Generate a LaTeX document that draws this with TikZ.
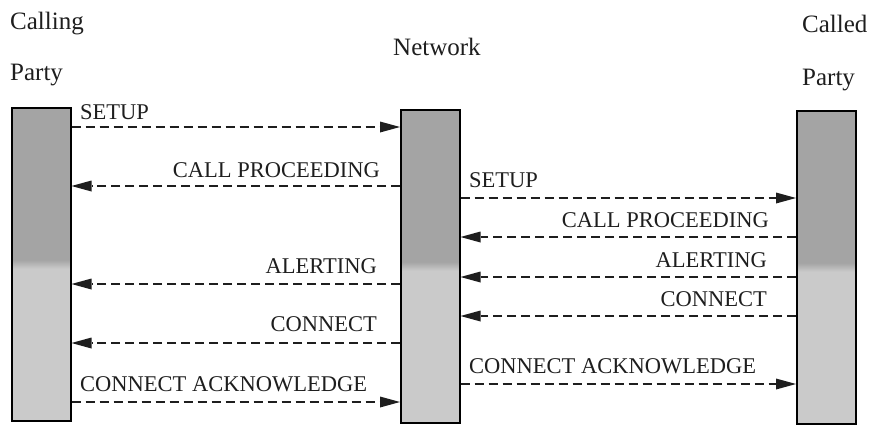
\documentclass[tikz,border=0pt]{standalone}
\usepackage{fontspec}
\setmainfont{Liberation Serif}
\usetikzlibrary{arrows.meta}
\definecolor{bardark}{HTML}{A4A4A4}
\definecolor{barlight}{HTML}{CACACA}
\definecolor{ink}{HTML}{1E1E1E}
\pgfdeclareverticalshading{barshade}{100bp}{color(0bp)=(barlight); color(49.3bp)=(barlight); color(50.7bp)=(bardark); color(100bp)=(bardark)}
\tikzset{headtip/.tip={Triangle[length=20pt,width=11pt,fill=ink,line width=0pt]}}
\begin{document}
\begin{tikzpicture}[x=1pt,y=-1pt,
  bar/.style={draw=black, line width=1.5pt, shading=barshade, minimum width=59pt, minimum height=313pt, inner sep=0pt, anchor=north west},
  title/.style={font=\fontsize{25}{25}\selectfont, inner sep=0pt, anchor=base west, text=ink},
  lbl/.style={font=\fontsize{22.5}{22.5}\selectfont, inner sep=0pt, text=ink},
  msg/.style={draw=ink, dash pattern=on 9pt off 5pt, line width=1.4pt, -headtip}]
\useasboundingbox (0,0) rectangle (874,426);
% titles
\node[title] (t1) at (10,29) {Calling};
\node[title] (t2) at (10,80) {Party};
\node[title] (t3) at (393,55) {Network};
\node[title] (t4) at (802,32) {Called};
\node[title] (t5) at (802,85) {Party};
% bars
\node[bar] (L) at (11,107) {};
\node[bar] (N) at (400,109) {};
\node[bar] (R) at (796,110) {};
% messages
\draw[msg] (L.east |- 0,127) -- (N.west |- 0,127);
\node[lbl, anchor=west] (m1) at (80,112) {SETUP};
\draw[msg] (N.west |- 0,186) -- (L.east |- 0,186);
\node[lbl, anchor=east] (m2) at (380,170) {CALL PROCEEDING};
\draw[msg] (N.east |- 0,198) -- (R.west |- 0,198);
\node[lbl, anchor=west] (m3) at (469,180) {SETUP};
\draw[msg] (R.west |- 0,237) -- (N.east |- 0,237);
\node[lbl, anchor=east] (m4) at (769,220) {CALL PROCEEDING};
\draw[msg] (R.west |- 0,277) -- (N.east |- 0,277);
\node[lbl, anchor=east] (m5) at (767,260) {ALERTING};
\draw[msg] (N.west |- 0,284) -- (L.east |- 0,284);
\node[lbl, anchor=east] (m6) at (377,266) {ALERTING};
\draw[msg] (R.west |- 0,316) -- (N.east |- 0,316);
\node[lbl, anchor=east] (m7) at (767,299) {CONNECT};
\draw[msg] (N.west |- 0,343) -- (L.east |- 0,343);
\node[lbl, anchor=east] (m8) at (377,324) {CONNECT};
\draw[msg] (L.east |- 0,402) -- (N.west |- 0,402);
\node[lbl, anchor=west] (m9) at (80,384) {CONNECT ACKNOWLEDGE};
\draw[msg] (N.east |- 0,384) -- (R.west |- 0,384);
\node[lbl, anchor=west] (m10) at (469,366) {CONNECT ACKNOWLEDGE};
\end{tikzpicture}
\end{document}
